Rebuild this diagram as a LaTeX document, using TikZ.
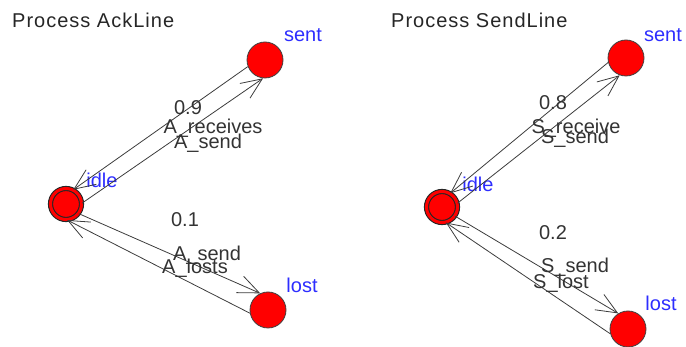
\documentclass[tikz,border=0pt]{standalone}
\usepackage{fontspec}
\setmainfont{Liberation Sans}
\newfontfamily\titlefont{Liberation Sans}[LetterSpace=5]
\usetikzlibrary{arrows.meta}

\definecolor{statered}{RGB}{255,0,0}
\definecolor{nameblue}{RGB}{45,45,255}
\definecolor{edgegray}{RGB}{60,60,60}

\tikzset{
  state/.style={circle, fill=statered, draw=black!75, line width=0.8pt,
    minimum size=36pt, inner sep=0pt},
  initstate/.style={state, minimum size=31pt, draw=black!85, line width=1.1pt,
    double=statered, double distance=3pt},
  trans/.style={draw=edgegray, line width=0.8pt,
    -{Straight Barb[angle'=46, length=21pt]}},
  statename/.style={text=nameblue, font=\fontsize{20}{22}\selectfont, inner sep=0pt},
  translabel/.style={text=black!80, font=\fontsize{20}{22}\selectfont, inner sep=0pt},
  proctitle/.style={text=black!85, font=\titlefont\fontsize{20}{22}\selectfont,
    inner sep=0pt, anchor=west}
}

\begin{document}
\begin{tikzpicture}[x=1pt, y=-1pt]
  \useasboundingbox (0,0) rectangle (686,347);

  % process AckLine
  \node[proctitle] (acktitle) at (12,20) {Process AckLine};
  \node[initstate] (ackidle) at (66,204) {};
  \node[state] (acksent) at (265,60) {};
  \node[state] (acklost) at (268,310) {};
  \node[statename] (ackidlename) at (102,180) {idle};
  \node[statename] (acksentname) at (303,35) {sent};
  \node[statename] (acklostname) at (302,285) {lost};

  \draw[trans] (ackidle.3) -- (acksent.-96);
  \draw[trans] (acksent.201) -- (ackidle.63);
  \draw[trans] (ackidle.-37) -- (acklost.115);
  \draw[trans] (acklost.190) -- (ackidle.-86);

  \node[translabel] (ackup) at (188,108) {0.9};
  \node[translabel] (ackrecv) at (213,128) {A\_receives};
  \node[translabel] (acksend) at (208,143) {A\_send};
  \node[translabel] (ackdown) at (185,220) {0.1};
  \node[translabel] (acksendb) at (207,255) {A\_send};
  \node[translabel] (acklosts) at (195,268) {A\_losts};

  % process SendLine
  \node[proctitle] (sendtitle) at (391,20) {Process SendLine};
  \node[initstate] (sendidle) at (442,207) {};
  \node[state] (sendsent) at (626,58) {};
  \node[state] (sendlost) at (628,329) {};
  \node[statename] (sendidlename) at (478,184) {idle};
  \node[statename] (sendsentname) at (663,35) {sent};
  \node[statename] (sendlostname) at (661,303) {lost};

  \draw[trans] (sendidle.14) -- (sendsent.250);
  \draw[trans] (sendsent.194) -- (sendidle.59);
  \draw[trans] (sendidle.-35) -- (sendlost.122);
  \draw[trans] (sendlost.195) -- (sendidle.-76);

  \node[translabel] (sendup) at (553,103) {0.8};
  \node[translabel] (sendrecv) at (576,128) {S\_receive};
  \node[translabel] (sendsend) at (575,138) {S\_send};
  \node[translabel] (senddown) at (553,233) {0.2};
  \node[translabel] (sendsendb) at (575,267) {S\_send};
  \node[translabel] (sendlosts) at (561,283) {S\_lost};
\end{tikzpicture}
\end{document}
